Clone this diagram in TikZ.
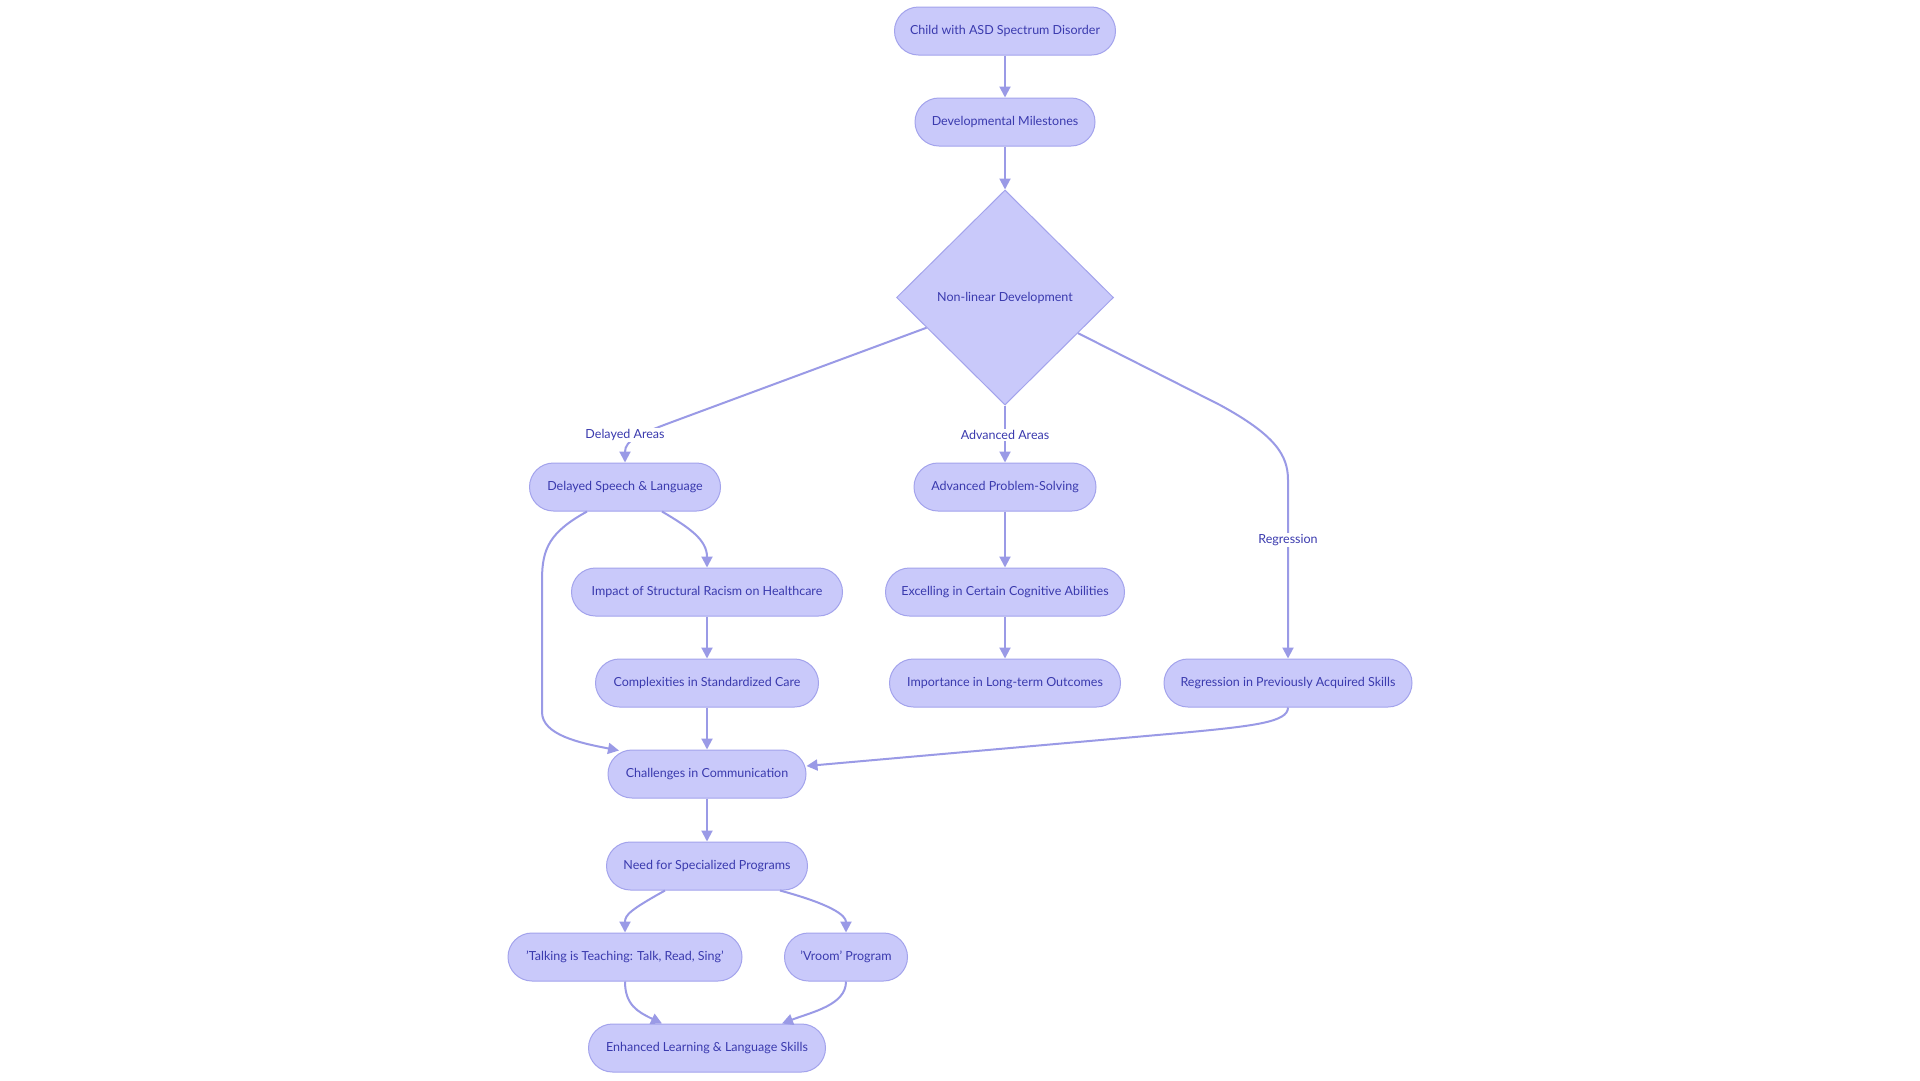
\documentclass[tikz,border=0pt]{standalone}
\usepackage{fontspec}
\setmainfont{Lato}
\usetikzlibrary{arrows.meta,shapes.geometric,calc}
\definecolor{nfill}{HTML}{C9C9FA}
\definecolor{nline}{HTML}{A3A3EC}
\definecolor{ntext}{HTML}{3A3AAE}
\definecolor{eline}{HTML}{9A9AE6}
\begin{document}
\begin{tikzpicture}[x=1pt,y=-1pt,
  box/.style={draw=nline,fill=nfill,line width=1pt,rounded corners=24pt,minimum height=48pt,inner sep=0pt,text=ntext,font=\fontsize{12.5}{14}\selectfont},
  dia/.style={draw=nline,fill=nfill,line width=1pt,diamond,aspect=1,minimum width=217pt,minimum height=215pt,inner sep=0pt,text=ntext,font=\fontsize{12.5}{14}\selectfont},
  conn/.style={draw=eline,line width=2pt,-{Triangle[length=11pt,width=11pt]}},
  lbl/.style={fill=white,text=ntext,inner sep=1.5pt,font=\fontsize{12.5}{14}\selectfont}]
\useasboundingbox (0,0) rectangle (1920,1080);
\fill[white] (0,0) rectangle (1920,1080);
% nodes
\node[box,minimum width=221pt] (child) at (1005,31) {Child with ASD Spectrum Disorder};
\node[box,minimum width=180pt] (dev) at (1005,122) {Developmental Milestones};
\node[dia] (nl) at (1005,297.5) {Non-linear Development};
\node[box,minimum width=191pt] (dsl) at (625,487) {Delayed Speech \& Language};
\node[box,minimum width=271pt] (isr) at (707,592) {Impact of Structural Racism on Healthcare};
\node[box,minimum width=223pt] (csc) at (707,683) {Complexities in Standardized Care};
\node[box,minimum width=198pt] (cic) at (707,774) {Challenges in Communication};
\node[box,minimum width=201pt] (nsp) at (707,866) {Need for Specialized Programs};
\node[box,minimum width=234pt] (tit) at (625,957) {'Talking is Teaching: Talk, Read, Sing'};
\node[box,minimum width=123pt] (vrm) at (846,957) {'Vroom' Program};
\node[box,minimum width=237pt] (enh) at (707,1048) {Enhanced Learning \& Language Skills};
\node[box,minimum width=182pt] (aps) at (1005,487) {Advanced Problem-Solving};
\node[box,minimum width=239pt] (exc) at (1005,592) {Excelling in Certain Cognitive Abilities};
\node[box,minimum width=231pt] (imp) at (1005,683) {Importance in Long-term Outcomes};
\node[box,minimum width=248pt] (reg) at (1288,683) {Regression in Previously Acquired Skills};
% connector start points
\coordinate (nlL) at ($(nl.west)!0.28!(nl.south)$);
\coordinate (nlR) at ($(nl.east)!0.33!(nl.south)$);
% connectors
\draw[conn] (child) -- (dev);
\draw[conn] (dev) -- (nl.north);
\draw[conn] (nlL) -- (672,422) .. controls (640,434) and (625,440) .. (dsl.north);
\draw[conn] (nl.south) -- (aps.north);
\draw[conn] (nlR) -- (1220,405) .. controls (1275,435) and (1288,455) .. (1288,480) -- (reg.north);
\draw[conn] ([xshift=37pt]dsl.south) .. controls (690,528) and (707,540) .. (isr.north);
\draw[conn] ([xshift=-38pt]dsl.south) .. controls (550,532) and (542,548) .. (542,580) -- (542,712) .. controls (542,735) and (580,743) .. ([xshift=-88pt,yshift=-1pt]cic.north);
\draw[conn] (isr) -- (csc);
\draw[conn] (csc) -- (cic);
\draw[conn] (reg.south) .. controls (1288,722) and (1255,726) .. (1180,733) -- ([yshift=8pt]cic.east);
\draw[conn] (aps) -- (exc);
\draw[conn] (exc) -- (imp);
\draw[conn] (cic) -- (nsp);
\draw[conn] ([xshift=-42pt]nsp.south) .. controls (630,910) and (625,915) .. (tit.north);
\draw[conn] ([xshift=73pt]nsp.south) .. controls (830,904) and (846,915) .. (vrm.north);
\draw[conn] (tit.south) .. controls (625,1005) and (638,1012) .. ([xshift=-45pt]enh.north);
\draw[conn] (vrm.south) .. controls (846,1005) and (812,1012) .. ([xshift=75pt]enh.north);
% labels
\node[lbl] (ldel) at (625,435) {Delayed Areas};
\node[lbl] (ladv) at (1005,435) {Advanced Areas};
\node[lbl] (lreg) at (1288,540) {Regression};
\end{tikzpicture}
\end{document}
